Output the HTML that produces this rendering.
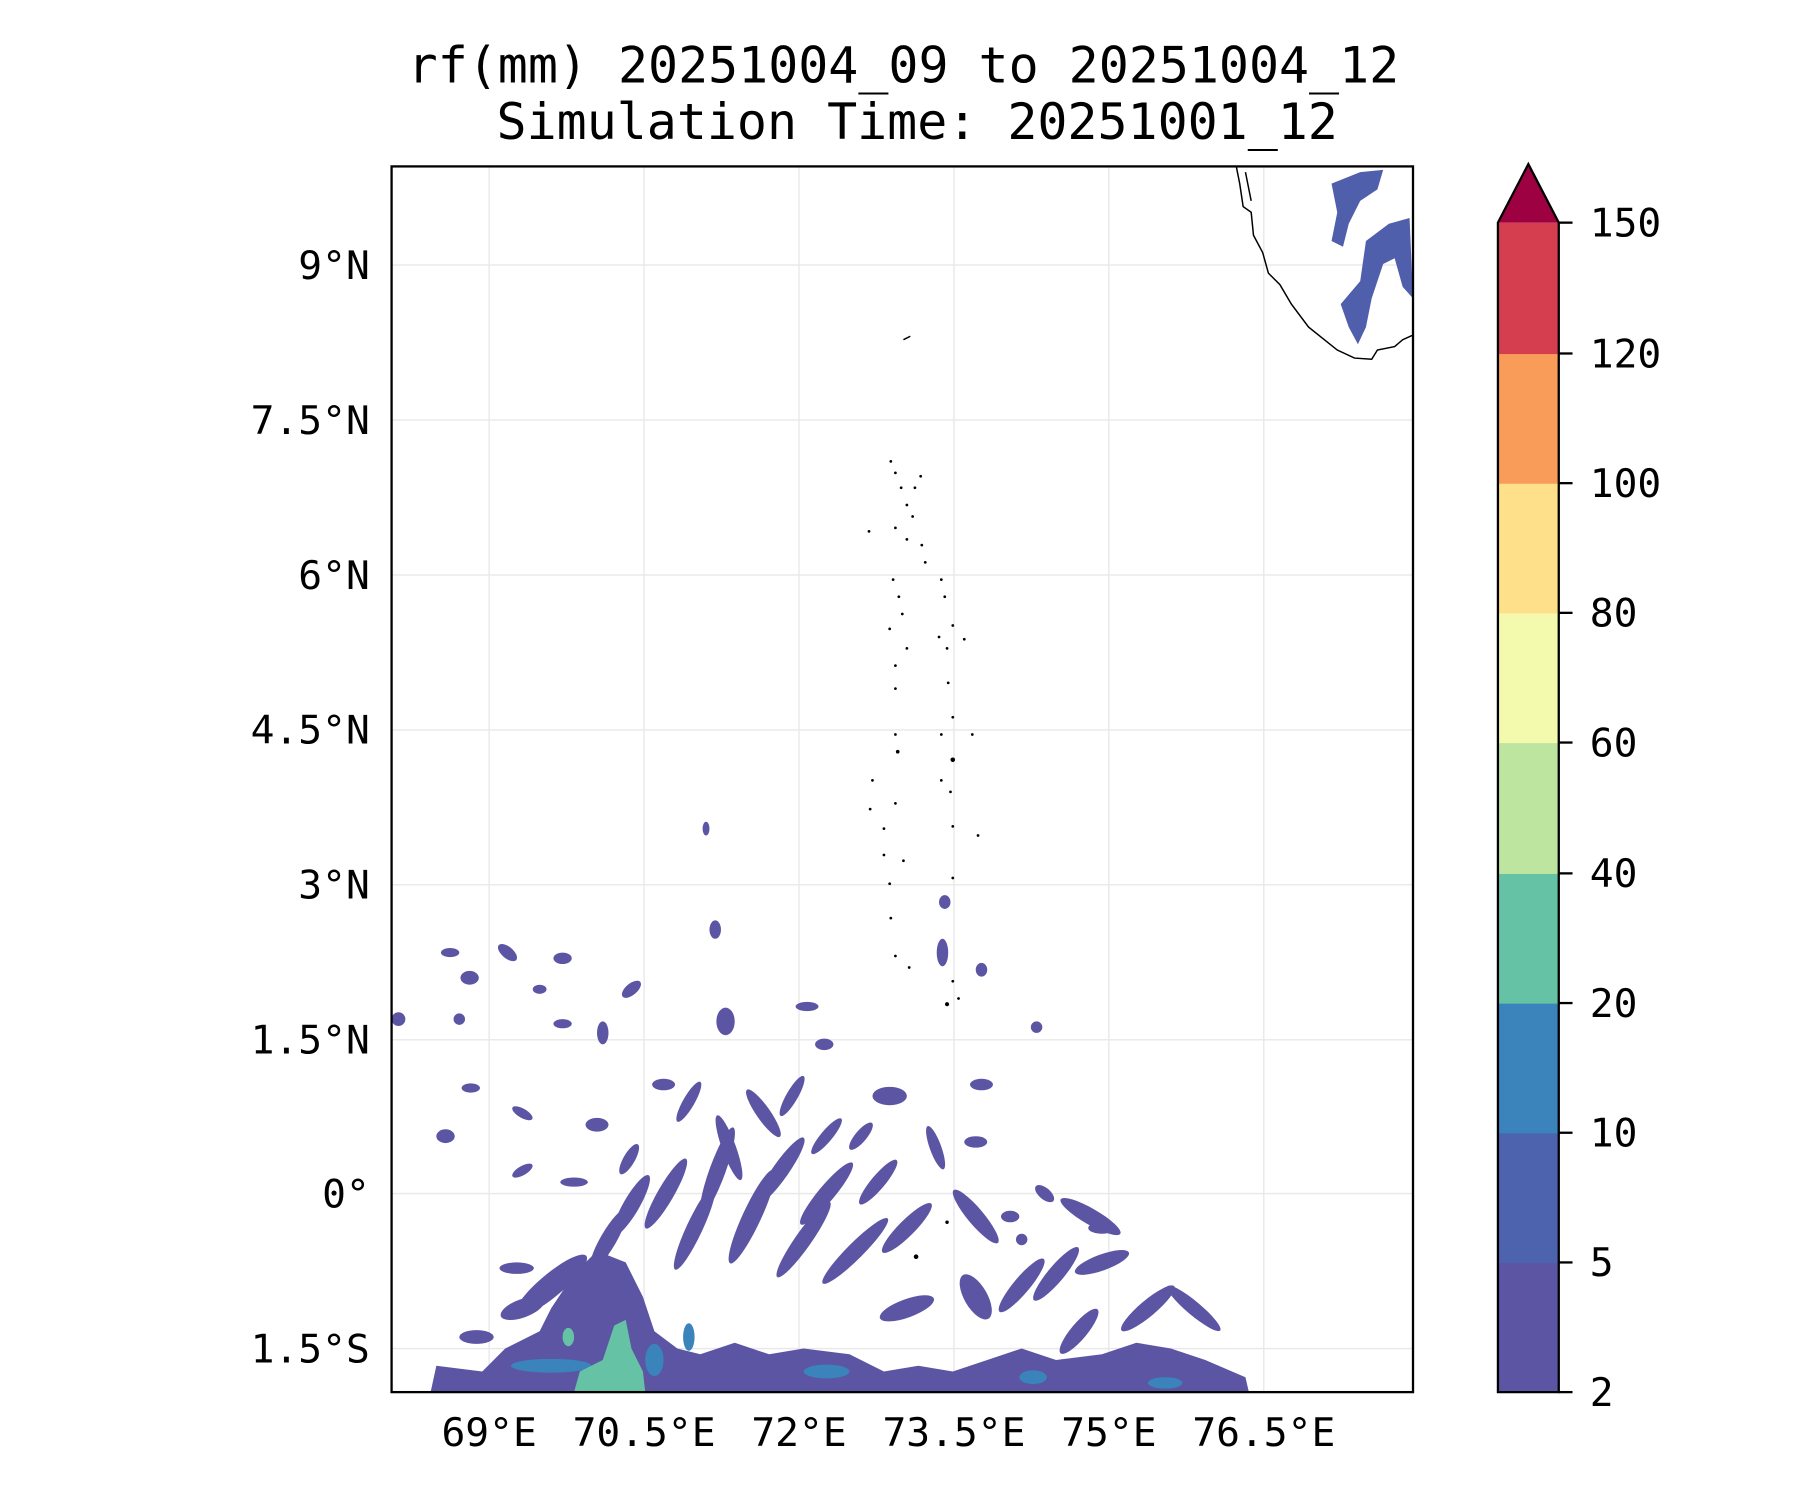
<!DOCTYPE html>
<html><head><meta charset="utf-8"><style>html,body{margin:0;padding:0;background:#fff}svg{display:block}</style></head>
<body>
<svg width="1800" height="1500" viewBox="0 0 1568 1307" xmlns="http://www.w3.org/2000/svg" font-family="'DejaVu Sans Mono','Liberation Mono',monospace">
<rect width="1568" height="1307" fill="#fff"/>
<text x="787" y="72" font-size="43.5" text-anchor="middle">rf(mm) 20251004_09 to 20251004_12</text>
<text x="799" y="121" font-size="43.5" text-anchor="middle">Simulation Time: 20251001_12</text>
<defs><clipPath id="c"><rect x="341" y="145" width="890" height="1068"/></clipPath></defs>
<g stroke="#e8e8e8" stroke-width="1.2">
<line x1="426" y1="145" x2="426" y2="1213"/><line x1="561" y1="145" x2="561" y2="1213"/><line x1="696" y1="145" x2="696" y2="1213"/><line x1="831" y1="145" x2="831" y2="1213"/><line x1="966" y1="145" x2="966" y2="1213"/><line x1="1101" y1="145" x2="1101" y2="1213"/>
<line x1="341" y1="231" x2="1231" y2="231"/><line x1="341" y1="366" x2="1231" y2="366"/><line x1="341" y1="501" x2="1231" y2="501"/><line x1="341" y1="636" x2="1231" y2="636"/><line x1="341" y1="771" x2="1231" y2="771"/><line x1="341" y1="906" x2="1231" y2="906"/><line x1="341" y1="1040" x2="1231" y2="1040"/><line x1="341" y1="1175" x2="1231" y2="1175"/>
</g>
<g clip-path="url(#c)">
<g fill="#4f5fab">
<path d="M1160,160 L1185,150 L1205,148 L1200,165 L1185,175 L1175,195 L1170,215 L1160,210 L1165,185 Z"/>
<path d="M1190,210 L1210,195 L1228,190 L1231,260 L1222,250 L1215,225 L1205,230 L1195,260 L1190,285 L1183,300 L1175,285 L1168,265 L1185,245 Z"/>
</g>
<g fill="#5c55a4">
<path d="M375,1213 L380,1190 L420,1195 L440,1175 L470,1160 L480,1140 L500,1110 L520,1090 L545,1100 L560,1130 L570,1160 L590,1175 L610,1180 L640,1170 L670,1180 L700,1175 L740,1180 L770,1195 L800,1190 L830,1195 L860,1185 L890,1175 L920,1185 L960,1180 L990,1170 L1020,1175 L1050,1185 L1085,1200 L1088,1213 Z"/>
</g>
<g fill="#5c55a4">
<ellipse cx="480" cy="1120" rx="40" ry="10" transform="rotate(-40 480 1120)"/>
<ellipse cx="455" cy="1140" rx="20" ry="8" transform="rotate(-20 455 1140)"/>
<ellipse cx="530" cy="1080" rx="30" ry="7" transform="rotate(-60 530 1080)"/>
<ellipse cx="550" cy="1050" rx="30" ry="7" transform="rotate(-60 550 1050)"/>
<ellipse cx="580" cy="1040" rx="35" ry="7" transform="rotate(-60 580 1040)"/>
<ellipse cx="605" cy="1070" rx="40" ry="7" transform="rotate(-65 605 1070)"/>
<ellipse cx="625" cy="1020" rx="40" ry="7" transform="rotate(-70 625 1020)"/>
<ellipse cx="655" cy="1060" rx="45" ry="8" transform="rotate(-65 655 1060)"/>
<ellipse cx="680" cy="1020" rx="35" ry="7" transform="rotate(-55 680 1020)"/>
<ellipse cx="700" cy="1080" rx="40" ry="7" transform="rotate(-55 700 1080)"/>
<ellipse cx="720" cy="1040" rx="35" ry="7" transform="rotate(-50 720 1040)"/>
<ellipse cx="745" cy="1090" rx="40" ry="7" transform="rotate(-45 745 1090)"/>
<ellipse cx="765" cy="1030" rx="25" ry="6" transform="rotate(-50 765 1030)"/>
<ellipse cx="790" cy="1070" rx="30" ry="7" transform="rotate(-45 790 1070)"/>
<ellipse cx="790" cy="1140" rx="25" ry="8" transform="rotate(-20 790 1140)"/>
<ellipse cx="850" cy="1060" rx="30" ry="7" transform="rotate(50 850 1060)"/>
<ellipse cx="850" cy="1130" rx="22" ry="10" transform="rotate(60 850 1130)"/>
<ellipse cx="890" cy="1120" rx="30" ry="7" transform="rotate(-50 890 1120)"/>
<ellipse cx="920" cy="1110" rx="30" ry="7" transform="rotate(-50 920 1110)"/>
<ellipse cx="950" cy="1060" rx="30" ry="7" transform="rotate(30 950 1060)"/>
<ellipse cx="960" cy="1100" rx="25" ry="7" transform="rotate(-20 960 1100)"/>
<ellipse cx="1000" cy="1140" rx="30" ry="7" transform="rotate(-40 1000 1140)"/>
<ellipse cx="1040" cy="1140" rx="30" ry="6" transform="rotate(40 1040 1140)"/>
<ellipse cx="940" cy="1160" rx="25" ry="7" transform="rotate(-50 940 1160)"/>
<ellipse cx="980" cy="1185" rx="15" ry="7"/>
<ellipse cx="450" cy="1195" rx="25" ry="8"/>
<ellipse cx="415" cy="1165" rx="15" ry="6"/>
<ellipse cx="450" cy="1105" rx="15" ry="5"/>
<ellipse cx="600" cy="960" rx="20" ry="5" transform="rotate(-60 600 960)"/>
<ellipse cx="635" cy="1000" rx="30" ry="6" transform="rotate(70 635 1000)"/>
<ellipse cx="665" cy="970" rx="25" ry="6" transform="rotate(55 665 970)"/>
<ellipse cx="690" cy="955" rx="20" ry="5" transform="rotate(-60 690 955)"/>
<ellipse cx="720" cy="990" rx="20" ry="5" transform="rotate(-50 720 990)"/>
<ellipse cx="750" cy="990" rx="15" ry="5" transform="rotate(-50 750 990)"/>
<ellipse cx="775" cy="955" rx="15" ry="8"/>
<ellipse cx="815" cy="1000" rx="20" ry="5" transform="rotate(70 815 1000)"/>
<ellipse cx="850" cy="995" rx="10" ry="5"/>
<ellipse cx="855" cy="945" rx="10" ry="5"/>
<ellipse cx="520" cy="980" rx="10" ry="6"/>
<ellipse cx="548" cy="1010" rx="15" ry="5" transform="rotate(-60 548 1010)"/>
<ellipse cx="578" cy="945" rx="10" ry="5"/>
<ellipse cx="632" cy="890" rx="8" ry="12"/>
<ellipse cx="703" cy="877" rx="10" ry="4"/>
<ellipse cx="718" cy="910" rx="8" ry="5"/>
<ellipse cx="388" cy="990" rx="8" ry="6"/>
<ellipse cx="409" cy="852" rx="8" ry="6"/>
<ellipse cx="442" cy="830" rx="10" ry="5" transform="rotate(40 442 830)"/>
<ellipse cx="392" cy="830" rx="8" ry="4"/>
<ellipse cx="490" cy="835" rx="8" ry="5"/>
<ellipse cx="470" cy="862" rx="6" ry="4"/>
<ellipse cx="490" cy="892" rx="8" ry="4"/>
<ellipse cx="525" cy="900" rx="5" ry="10"/>
<ellipse cx="550" cy="862" rx="10" ry="5" transform="rotate(-40 550 862)"/>
<ellipse cx="347" cy="888" rx="6" ry="6"/>
<ellipse cx="400" cy="888" rx="5" ry="5"/>
<ellipse cx="410" cy="948" rx="8" ry="4"/>
<ellipse cx="455" cy="970" rx="10" ry="4" transform="rotate(30 455 970)"/>
<ellipse cx="455" cy="1020" rx="10" ry="4" transform="rotate(-30 455 1020)"/>
<ellipse cx="500" cy="1030" rx="12" ry="4"/>
<ellipse cx="623" cy="810" rx="5" ry="8"/>
<ellipse cx="823" cy="786" rx="5" ry="6"/>
<ellipse cx="821" cy="830" rx="5" ry="12"/>
<ellipse cx="855" cy="845" rx="5" ry="6"/>
<ellipse cx="903" cy="895" rx="5" ry="5"/>
<ellipse cx="615" cy="722" rx="3" ry="6"/>
<ellipse cx="890" cy="1080" rx="5" ry="5"/>
<ellipse cx="910" cy="1040" rx="10" ry="5" transform="rotate(40 910 1040)"/>
<ellipse cx="960" cy="1070" rx="12" ry="5"/>
<ellipse cx="880" cy="1060" rx="8" ry="5"/>
</g>
<g fill="#3a84bb">
<ellipse cx="480" cy="1190" rx="35" ry="6"/>
<ellipse cx="600" cy="1165" rx="5" ry="12"/>
<ellipse cx="720" cy="1195" rx="20" ry="6"/>
<ellipse cx="900" cy="1200" rx="12" ry="6"/>
<ellipse cx="1015" cy="1205" rx="15" ry="5"/>
<ellipse cx="570" cy="1185" rx="8" ry="14"/>
</g>
<g fill="#66c2a5">
<path d="M500,1213 L505,1195 L525,1185 L535,1155 L545,1150 L550,1175 L560,1195 L562,1213 Z"/>
<ellipse cx="495" cy="1165" rx="5" ry="8"/>
</g>
<g fill="none" stroke="#000" stroke-width="1.3">
<path d="M1077,145 L1080,160 L1083,180 L1090,185 L1092,205 L1100,220 L1105,238 L1115,248 L1125,265 L1140,285 L1165,305 L1180,312 L1195,313 L1200,305 L1215,302 L1222,296 L1231,292"/>
<path d="M1085,150 L1088,165 L1090,175"/>
<path d="M787,296 L793,293"/>
</g>
<g fill="#000">
<circle cx="776" cy="402" r="1.2"/><circle cx="780" cy="412" r="1.2"/><circle cx="785" cy="425" r="1.2"/><circle cx="790" cy="440" r="1.2"/><circle cx="797" cy="425" r="1.2"/><circle cx="802" cy="415" r="1.2"/><circle cx="795" cy="450" r="1.2"/><circle cx="780" cy="460" r="1.2"/><circle cx="757" cy="463" r="1.2"/><circle cx="790" cy="470" r="1.2"/><circle cx="803" cy="475" r="1.2"/><circle cx="806" cy="490" r="1.2"/><circle cx="778" cy="505" r="1.2"/><circle cx="783" cy="520" r="1.2"/><circle cx="786" cy="535" r="1.2"/><circle cx="820" cy="505" r="1.2"/><circle cx="823" cy="520" r="1.2"/><circle cx="775" cy="548" r="1.2"/><circle cx="790" cy="565" r="1.2"/><circle cx="818" cy="555" r="1.2"/><circle cx="830" cy="545" r="1.2"/><circle cx="840" cy="557" r="1.2"/><circle cx="825" cy="565" r="1.2"/><circle cx="780" cy="580" r="1.2"/><circle cx="780" cy="600" r="1.2"/><circle cx="826" cy="595" r="1.2"/><circle cx="830" cy="625" r="1.2"/><circle cx="847" cy="640" r="1.2"/><circle cx="820" cy="640" r="1.2"/><circle cx="780" cy="640" r="1.2"/><circle cx="782" cy="655" r="1.6"/><circle cx="830" cy="662" r="2"/><circle cx="820" cy="680" r="1.2"/><circle cx="828" cy="690" r="1.2"/><circle cx="760" cy="680" r="1.2"/><circle cx="780" cy="700" r="1.2"/><circle cx="758" cy="705" r="1.2"/><circle cx="770" cy="722" r="1.2"/><circle cx="830" cy="720" r="1.2"/><circle cx="852" cy="728" r="1.2"/><circle cx="770" cy="745" r="1.2"/><circle cx="787" cy="750" r="1.2"/><circle cx="775" cy="770" r="1.2"/><circle cx="830" cy="765" r="1.2"/><circle cx="776" cy="800" r="1.2"/><circle cx="780" cy="833" r="1.2"/><circle cx="792" cy="843" r="1.2"/><circle cx="830" cy="855" r="1.2"/><circle cx="825" cy="875" r="1.8"/><circle cx="835" cy="870" r="1.2"/><circle cx="798" cy="1095" r="2"/><circle cx="825" cy="1065" r="1.5"/>
</g>
</g>
<rect x="341" y="145" width="890" height="1068" fill="none" stroke="#000" stroke-width="2"/>
<g font-size="34.5" text-anchor="end">
<text x="322" y="243">9°N</text><text x="322" y="378">7.5°N</text><text x="322" y="513">6°N</text><text x="322" y="648">4.5°N</text><text x="322" y="783">3°N</text><text x="322" y="918">1.5°N</text><text x="322" y="1052">0°</text><text x="322" y="1187">1.5°S</text>
</g>
<g font-size="34.5" text-anchor="middle">
<text x="426" y="1260">69°E</text><text x="561" y="1260">70.5°E</text><text x="696" y="1260">72°E</text><text x="831" y="1260">73.5°E</text><text x="966" y="1260">75°E</text><text x="1101" y="1260">76.5°E</text>
</g>
<g stroke="none">
<rect x="1305" y="1100" width="53" height="113" fill="#5c55a4"/>
<rect x="1305" y="987" width="53" height="113.5" fill="#4e63ad"/>
<rect x="1305" y="874" width="53" height="113.5" fill="#3a84bb"/>
<rect x="1305" y="761" width="53" height="113.5" fill="#66c2a5"/>
<rect x="1305" y="647" width="53" height="114.5" fill="#bee5a0"/>
<rect x="1305" y="534" width="53" height="113.5" fill="#f3faad"/>
<rect x="1305" y="421" width="53" height="113.5" fill="#fee08b"/>
<rect x="1305" y="308" width="53" height="113.5" fill="#f99b59"/>
<rect x="1305" y="194" width="53" height="114.5" fill="#d53e4f"/>
<polygon points="1305,194 1331.5,143 1358,194" fill="#9e0142"/>
</g>
<polygon points="1305,1213 1305,194 1331.5,143 1358,194 1358,1213" fill="none" stroke="#000" stroke-width="2"/>
<g stroke="#000" stroke-width="2">
<line x1="1358" y1="1213" x2="1370" y2="1213"/><line x1="1358" y1="1100" x2="1370" y2="1100"/><line x1="1358" y1="987" x2="1370" y2="987"/><line x1="1358" y1="874" x2="1370" y2="874"/><line x1="1358" y1="761" x2="1370" y2="761"/><line x1="1358" y1="647" x2="1370" y2="647"/><line x1="1358" y1="534" x2="1370" y2="534"/><line x1="1358" y1="421" x2="1370" y2="421"/><line x1="1358" y1="308" x2="1370" y2="308"/><line x1="1358" y1="194" x2="1370" y2="194"/>
</g>
<g font-size="34.5">
<text x="1385" y="1225">2</text><text x="1385" y="1112">5</text><text x="1385" y="999">10</text><text x="1385" y="886">20</text><text x="1385" y="773">40</text><text x="1385" y="659">60</text><text x="1385" y="546">80</text><text x="1385" y="433">100</text><text x="1385" y="320">120</text><text x="1385" y="206">150</text>
</g>
</svg>
</body></html>
